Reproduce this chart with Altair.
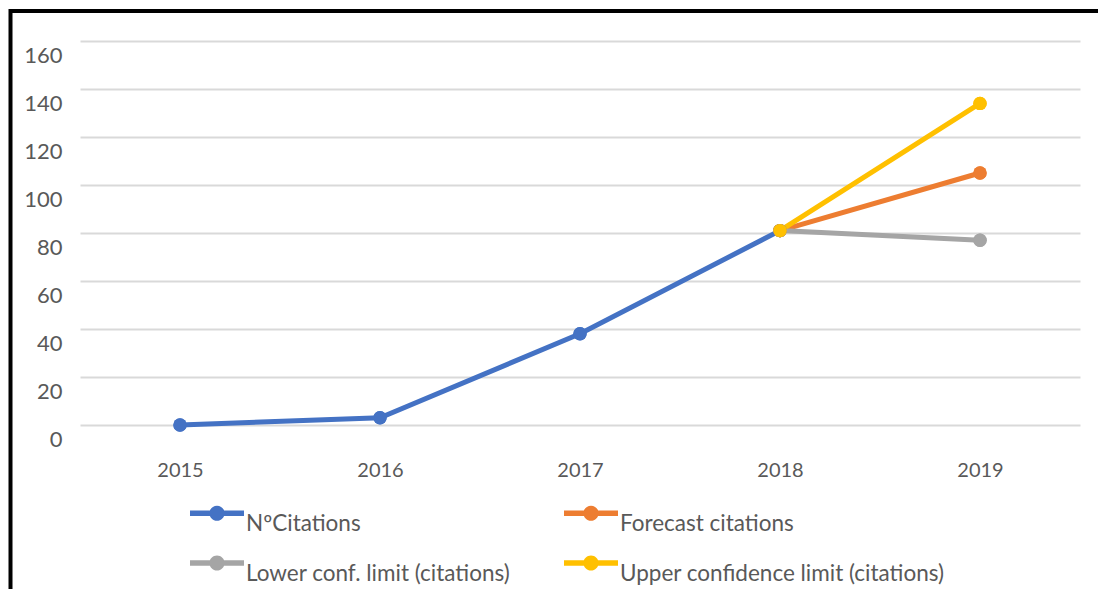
import altair as alt
import pandas as pd

# Yearly citation counts and the 2019 forecast band
years = ["2015", "2016", "2017", "2018", "2019"]
citations = [0, 3, 38, 81, None]
forecast = [None, None, None, 81, 105]
lower_limit = [None, None, None, 81, 77]
upper_limit = [None, None, None, 81, 134]

series_names = [
    "NºCitations",
    "Forecast citations",
    "Lower conf. limit (citations)",
    "Upper confidence limit (citations)",
]
series_colors = ["#4472C4", "#ED7D31", "#A5A5A5", "#FFC000"]
y_ticks = [0, 20, 40, 60, 80, 100, 120, 140, 160]

rows = []
for name, values in zip(series_names, [citations, forecast, lower_limit, upper_limit]):
    for yr, v in zip(years, values):
        if v is not None:
            rows.append({"year": yr, "value": v, "series": name})
df = pd.DataFrame(rows)

FONT = "Lato"
TEXT = "#595959"

# legend glyph: a thick line segment with a round marker in the middle
glyph = (
    "M-1,-0.1L1,-0.1L1,0.1L-1,0.1Z "
    "M-0.28,0A0.28,0.28,0,1,1,0.28,0A0.28,0.28,0,1,1,-0.28,0Z"
)

x_enc = alt.X(
    "year:O",
    scale=alt.Scale(type="point", domain=years, padding=0.5),
    axis=alt.Axis(
        title=None, labelAngle=0, domain=False, ticks=False, grid=False,
        labelFont=FONT, labelFontSize=20, labelColor=TEXT,
        labelBaseline="middle", labelPadding=45,
    ),
)
y_enc = alt.Y(
    "value:Q",
    scale=alt.Scale(domain=[0, 160], nice=False),
    axis=alt.Axis(
        title=None, values=y_ticks, domain=False, ticks=False,
        gridColor="#D9D9D9", gridWidth=2,
        labelFont=FONT, labelFontSize=22, labelColor=TEXT,
        labelPadding=18, labelOffset=14,
    ),
)
color_enc = alt.Color(
    "series:N",
    scale=alt.Scale(domain=series_names, range=series_colors),
    legend=alt.Legend(
        title=None, orient="none", legendX=110, legendY=445,
        direction="horizontal", columns=2, padding=0,
        symbolType=glyph, symbolSize=2916, symbolStrokeWidth=0,
        labelFont=FONT, labelFontSize=22.5, labelColor=TEXT,
        labelBaseline="top", labelOffset=2,
        columnPadding=53, rowPadding=-11, labelLimit=400,
    ),
)

base = alt.Chart(df).encode(x=x_enc, y=y_enc, color=color_enc, detail="series:N")

points = base.mark_circle(size=180, opacity=1)
lines = base.mark_line(strokeWidth=5, strokeCap="round")

frame = alt.Chart(pd.DataFrame({"k": [0]})).mark_rect(
    fill=None, stroke="black", strokeWidth=4, clip=False
).encode(
    x=alt.value(-69.5), x2=alt.value(1040), y=alt.value(-30), y2=alt.value(600)
)

chart = (
    alt.layer(points, lines, points, frame)
    .properties(
        width=1000, height=384,
        padding={"left": 80, "top": 41, "right": 18, "bottom": 164},
        autosize="none", background="white",
    )
    .configure_view(stroke=None)
)

chart.save("out.html", embed_options={"renderer": "svg", "actions": False})
